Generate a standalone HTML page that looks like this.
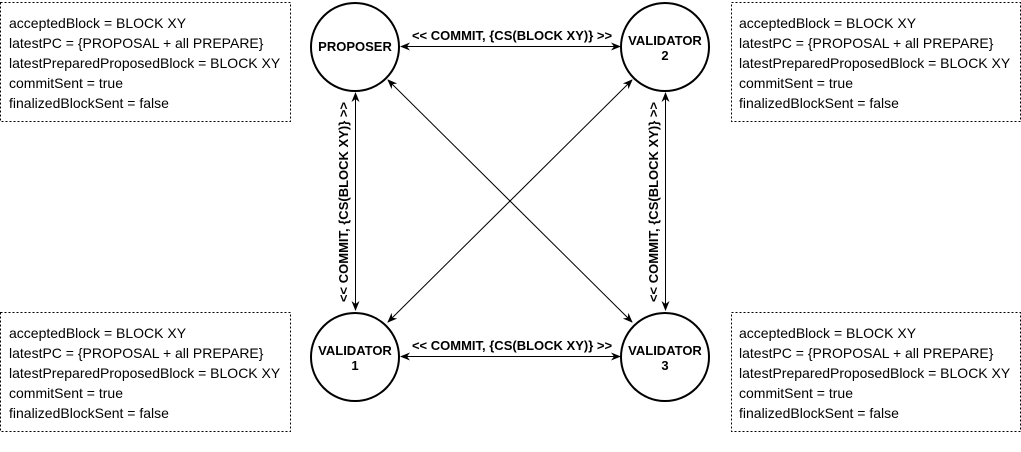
<!DOCTYPE html>
<html><head><meta charset="utf-8"><style>
body{margin:0;width:1021px;height:447px;background:#fff;overflow:hidden;font-family:"Liberation Sans",sans-serif}
</style></head><body>
<svg width="1021" height="447" xmlns="http://www.w3.org/2000/svg" font-family="Liberation Sans, sans-serif">
<defs><marker id="a" markerWidth="10" markerHeight="8" refX="9" refY="4" orient="auto-start-reverse" markerUnits="userSpaceOnUse"><path d="M0,0 L10,4 L0,8 L3,4 Z" fill="#000"/></marker></defs>
<g fill="none" stroke="#000" stroke-dasharray="2,2" stroke-width="1">
<rect x="0.5" y="2.5" width="290" height="119"/>
<rect x="731.5" y="2.5" width="289" height="119"/>
<rect x="0.5" y="312.5" width="290" height="119"/>
<rect x="731.5" y="312.5" width="289" height="119"/>
</g>
<g font-size="14" fill="#000">
<text x="9" y="28">acceptedBlock = BLOCK XY</text><text x="9" y="48">latestPC = {PROPOSAL + all PREPARE}</text><text x="9" y="68">latestPreparedProposedBlock = BLOCK XY</text><text x="9" y="88">commitSent = true</text><text x="9" y="108">finalizedBlockSent = false</text>
<text x="739" y="28">acceptedBlock = BLOCK XY</text><text x="739" y="48">latestPC = {PROPOSAL + all PREPARE}</text><text x="739" y="68">latestPreparedProposedBlock = BLOCK XY</text><text x="739" y="88">commitSent = true</text><text x="739" y="108">finalizedBlockSent = false</text>
<text x="9" y="338">acceptedBlock = BLOCK XY</text><text x="9" y="358">latestPC = {PROPOSAL + all PREPARE}</text><text x="9" y="378">latestPreparedProposedBlock = BLOCK XY</text><text x="9" y="398">commitSent = true</text><text x="9" y="418">finalizedBlockSent = false</text>
<text x="739" y="338">acceptedBlock = BLOCK XY</text><text x="739" y="358">latestPC = {PROPOSAL + all PREPARE}</text><text x="739" y="378">latestPreparedProposedBlock = BLOCK XY</text><text x="739" y="398">commitSent = true</text><text x="739" y="418">finalizedBlockSent = false</text>
</g>
<g stroke="#000" stroke-width="1" marker-start="url(#a)" marker-end="url(#a)">
<line x1="401" y1="46.5" x2="620" y2="46.5"/>
<line x1="401" y1="356.5" x2="620" y2="356.5"/>
<line x1="355.5" y1="93" x2="355.5" y2="310"/>
<line x1="665.5" y1="93" x2="665.5" y2="310"/>
<line x1="388" y1="80" x2="632" y2="322"/>
<line x1="632" y1="80" x2="388" y2="322"/>
</g>
<g fill="#fff" stroke="#000" stroke-width="2">
<circle cx="355" cy="47" r="44"/><circle cx="665" cy="47" r="44"/>
<circle cx="355" cy="357" r="44"/><circle cx="665" cy="357" r="44"/>
</g>
<g font-size="13" font-weight="bold" text-anchor="middle" fill="#000">
<text x="355" y="51">PROPOSER</text>
<text x="665" y="45">VALIDATOR</text><text x="665" y="60">2</text>
<text x="355" y="355">VALIDATOR</text><text x="355" y="370">1</text>
<text x="665" y="355">VALIDATOR</text><text x="665" y="370">3</text>
<text x="512" y="40">&lt;&lt; COMMIT, {CS(BLOCK XY)} &gt;&gt;</text>
<text x="512" y="350">&lt;&lt; COMMIT, {CS(BLOCK XY)} &gt;&gt;</text>
<text transform="translate(348,202) rotate(-90)">&lt;&lt; COMMIT, {CS(BLOCK XY)} &gt;&gt;</text>
<text transform="translate(658,202) rotate(-90)">&lt;&lt; COMMIT, {CS(BLOCK XY)} &gt;&gt;</text>
</g>
</svg>
</body></html>
